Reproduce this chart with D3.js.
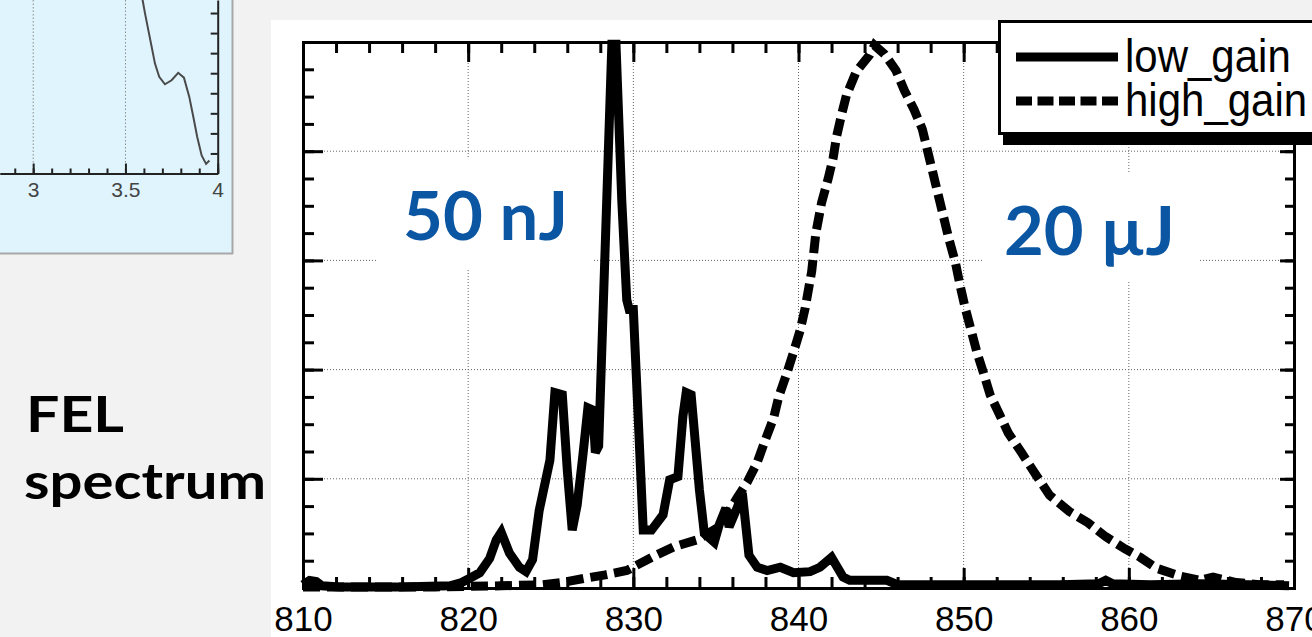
<!DOCTYPE html>
<html>
<head>
<meta charset="utf-8">
<script src="https://cdn.jsdelivr.net/npm/d3@7"></script>
<style>
  html, body { margin: 0; padding: 0; background: #f2f2f2; overflow: hidden; }
  svg { display: block; }
</style>
</head>
<body>
<svg id="chart" width="1312" height="637"></svg>
<script>
// wavelength (nm) / signal pairs
const lowGain = [
  [810.0, 0.03], [810.4, 0.07], [810.8, 0.06], [811.15, 0.02], [812.2, 0.01], [815.9, 0.01],
  [818.9, 0.02], [819.6, 0.05], [820.1, 0.09], [820.7, 0.14], [821.3, 0.27], [821.7, 0.44],
  [822.0, 0.51], [822.5, 0.32], [823.1, 0.19], [823.5, 0.15], [823.9, 0.26], [824.3, 0.71],
  [824.95, 1.17], [825.25, 1.79], [825.7, 1.77], [826.0, 1.08], [826.3, 0.53], [826.6, 0.76],
  [826.95, 1.22], [827.25, 1.65], [827.55, 1.63], [827.7, 1.24], [827.9, 1.30], [828.7, 4.98],
  [828.95, 4.98], [829.3, 3.55], [829.6, 2.64], [829.75, 2.55], [830.0, 2.55], [830.6, 0.53],
  [831.1, 0.53], [831.8, 0.67], [832.2, 0.99], [832.7, 1.02], [833.0, 1.57], [833.2, 1.79],
  [833.5, 1.77], [834.0, 0.90], [834.3, 0.50], [834.9, 0.42], [835.2, 0.58], [835.6, 0.73],
  [835.8, 0.56], [836.3, 0.74], [836.6, 0.87], [837.0, 0.30], [837.5, 0.19], [838.1, 0.16],
  [838.9, 0.19], [839.7, 0.14], [840.7, 0.15], [841.3, 0.19], [842.0, 0.28], [842.7, 0.10],
  [843.1, 0.07], [845.35, 0.07], [846.0, 0.03], [848.6, 0.03], [852.2, 0.03], [855.8, 0.03],
  [858.2, 0.04], [858.6, 0.07], [859.0, 0.04], [861.3, 0.03], [864.3, 0.04], [867.3, 0.03],
  [869.7, 0.02]
];

const highGain = [
  [810.0, 0.01], [818.0, 0.01], [822.0, 0.02], [824.5, 0.03], [825.7, 0.05], [827.1, 0.09],
  [828.3, 0.12], [829.6, 0.16], [831.1, 0.28], [832.5, 0.38], [833.85, 0.44], [835.2, 0.56],
  [836.3, 0.83], [836.9, 0.97], [837.5, 1.15], [838.0, 1.36], [838.5, 1.56], [838.8, 1.75],
  [839.3, 1.97], [839.7, 2.16], [840.1, 2.36], [840.4, 2.56], [840.8, 2.90], [841.05, 3.25],
  [841.4, 3.53], [841.8, 3.75], [842.1, 3.94], [842.3, 4.13], [842.6, 4.33], [842.9, 4.51],
  [843.5, 4.73], [844.3, 4.88], [844.6, 4.97], [845.2, 4.89], [845.9, 4.74], [846.4, 4.56],
  [847.0, 4.38], [847.5, 4.20], [847.9, 3.95], [848.3, 3.70], [848.7, 3.45], [849.1, 3.20],
  [849.5, 2.98], [849.8, 2.76], [850.1, 2.56], [850.45, 2.36], [850.8, 2.16], [851.2, 1.97],
  [851.6, 1.77], [852.2, 1.58], [852.7, 1.42], [853.5, 1.24], [854.4, 1.03], [855.2, 0.85],
  [856.4, 0.70], [857.5, 0.60], [858.6, 0.47], [859.75, 0.36], [860.7, 0.28], [861.7, 0.18],
  [863.1, 0.11], [864.3, 0.07], [865.1, 0.10], [866.5, 0.05], [867.9, 0.03], [869.4, 0.03]
];

const xMajorTicks = [810, 820, 830, 840, 850, 860, 870];
const xGridTicks = [820, 830, 840, 850, 860];
const yMajorTicks = [0, 1, 2, 3, 4, 5];
const yGridTicks = [1, 2, 3, 4];
const legendLabels = ["low_gain", "high_gain"];
const energyLabels = ["50 nJ", "20 µJ"];
const sideTitle = ["FEL", "spectrum"];

// small cropped plot in the top-left corner
const insetCurve = [
  [3.58, 9.3], [3.593, 8.65], [3.606, 7.98], [3.624, 7.15], [3.642, 6.32], [3.66, 5.48],
  [3.683, 4.82], [3.714, 4.45], [3.75, 4.65], [3.786, 5.02], [3.817, 4.78], [3.846, 3.82],
  [3.868, 2.82], [3.889, 1.82], [3.913, 0.9], [3.937, 0.48], [3.955, 0.65]
];
const insetMajorTicks = [3, 3.5, 4];
const insetGridTicks = [3, 3.5];

const svg = d3.select("#chart");

// ---------- inset ----------
const inset = svg.append("g");
inset.append("rect").attr("width", 232).attr("height", 253).attr("fill", "#dff4fd");
inset.append("path").attr("d", "M232.5,0V254M0,253.5H233")
  .attr("stroke", "#a8a8a8").attr("stroke-width", 2).attr("fill", "none");

const ix = d3.scaleLinear().domain([2.82, 4]).range([0, 217.7]);
const iy = d3.scaleLinear().domain([0, 8.65]).range([173.5, 0]);

inset.append("clipPath").attr("id", "insetClip")
  .append("rect").attr("width", 217.7).attr("height", 173.5);

inset.selectAll(".igrid").data(insetGridTicks).join("line")
  .attr("x1", d => ix(d)).attr("x2", d => ix(d))
  .attr("y1", 0).attr("y2", 173.5)
  .attr("stroke", "#8c8c8c").attr("stroke-width", 1).attr("stroke-dasharray", "1.5,2");

inset.append("path").datum(insetCurve)
  .attr("clip-path", "url(#insetClip)")
  .attr("fill", "none").attr("stroke", "#4a4a4a").attr("stroke-width", 2)
  .attr("d", d3.line().x(d => ix(d[0])).y(d => iy(d[1])));

const insetMinor = d3.range(2.9, 4.001, 0.1).map(v => +v.toFixed(1));
const ib1 = inset.append("g").attr("transform", "translate(0,173.5)")
  .call(d3.axisBottom(ix).tickValues(insetMinor).tickSize(-5).tickSizeOuter(0).tickFormat(""));
const ib2 = inset.append("g").attr("transform", "translate(0,173.5)")
  .call(d3.axisBottom(ix).tickValues(insetMajorTicks).tickSize(-10).tickSizeOuter(0)
    .tickPadding(9).tickFormat(d3.format("~g")));
const ir = inset.append("g").attr("transform", "translate(217.7,0)")
  .call(d3.axisRight(iy).tickValues(d3.range(0, 9)).tickSize(-7).tickSizeOuter(0).tickFormat(""));
[ib1, ib2, ir].forEach(g => {
  g.selectAll("path, line").attr("stroke", "#222").attr("stroke-width", 2);
});
ib2.selectAll("text").attr("fill", "#444").attr("font-size", 21)
  .attr("font-family", "'Liberation Sans', Arial, sans-serif");

// ---------- side title ----------
svg.append("text").text(sideTitle[0])
  .attr("x", 26).attr("y", 432)
  .attr("font-family", "Lato, sans-serif").attr("font-weight", 700).attr("font-size", 50)
  .attr("textLength", 98).attr("lengthAdjust", "spacingAndGlyphs").attr("fill", "#000");
svg.append("text").text(sideTitle[1])
  .attr("x", 24).attr("y", 499)
  .attr("font-family", "Lato, sans-serif").attr("font-weight", 700).attr("font-size", 50)
  .attr("textLength", 242).attr("lengthAdjust", "spacingAndGlyphs").attr("fill", "#000");

// ---------- main plot ----------
svg.append("rect").attr("x", 271).attr("y", 20).attr("width", 1041).attr("height", 617)
  .attr("fill", "#fff");

const x = d3.scaleLinear().domain([810, 870]).range([303, 1294]);
const y = d3.scaleLinear().domain([0, 5]).range([588, 42]);

const grid = svg.append("g")
  .attr("stroke", "#666").attr("stroke-width", 1).attr("stroke-dasharray", "1,2");
grid.selectAll(".vg").data(xGridTicks).join("line")
  .attr("x1", d => x(d)).attr("x2", d => x(d)).attr("y1", y(5)).attr("y2", y(0));
grid.selectAll(".hg").data(yGridTicks).join("line")
  .attr("x1", x(810)).attr("x2", x(870)).attr("y1", d => y(d)).attr("y2", d => y(d));

// white patches under the energy labels (they break the grid in the scan)
svg.append("rect").attr("x", 378).attr("y", 158).attr("width", 214).attr("height", 112).attr("fill", "#fff");
svg.append("rect").attr("x", 984).attr("y", 173).attr("width", 216).attr("height", 109).attr("fill", "#fff");

const xMinor = d3.range(810, 870.1, 2);
const yMinor = d3.range(0, 5.01, 0.25);
const axes = [];
axes.push(svg.append("g").attr("transform", "translate(0,588)")
  .call(d3.axisBottom(x).tickValues(xMinor).tickSize(-11).tickSizeOuter(0).tickFormat("")));
axes.push(svg.append("g").attr("class", "xlab").attr("transform", "translate(0,588)")
  .call(d3.axisBottom(x).tickValues(xMajorTicks).tickSize(-20).tickSizeOuter(0)
    .tickPadding(18).tickFormat(d3.format("d"))));
axes.push(svg.append("g").attr("transform", "translate(0,42)")
  .call(d3.axisTop(x).tickValues(xMinor).tickSize(-11).tickSizeOuter(0).tickFormat("")));
axes.push(svg.append("g").attr("transform", "translate(0,42)")
  .call(d3.axisTop(x).tickValues(xMajorTicks).tickSize(-20).tickSizeOuter(0).tickFormat("")));
axes.push(svg.append("g").attr("transform", "translate(303,0)")
  .call(d3.axisLeft(y).tickValues(yMinor).tickSize(-11).tickSizeOuter(0).tickFormat("")));
axes.push(svg.append("g").attr("transform", "translate(303,0)")
  .call(d3.axisLeft(y).tickValues(yMajorTicks).tickSize(-20).tickSizeOuter(0).tickFormat("")));
axes.push(svg.append("g").attr("transform", "translate(1294,0)")
  .call(d3.axisRight(y).tickValues(yMinor).tickSize(-9).tickSizeOuter(0).tickFormat("")));
axes.push(svg.append("g").attr("transform", "translate(1294,0)")
  .call(d3.axisRight(y).tickValues(yMajorTicks).tickSize(-14).tickSizeOuter(0).tickFormat("")));
axes.forEach(g => {
  g.selectAll("path").attr("stroke", "#000").attr("stroke-width", 3).attr("stroke-linecap", "square");
  g.selectAll("line").attr("stroke", "#000").attr("stroke-width", 3);
});
svg.selectAll(".xlab text")
  .attr("font-family", "'Liberation Sans', Arial, sans-serif")
  .attr("font-size", 35).attr("fill", "#000");

const line = d3.line().x(d => x(d[0])).y(d => y(d[1]));

svg.append("path").datum(highGain)
  .attr("fill", "none").attr("stroke", "#000").attr("stroke-width", 9)
  .attr("stroke-dasharray", "17,7").attr("d", line);

svg.append("path").datum(lowGain)
  .attr("fill", "none").attr("stroke", "#000").attr("stroke-width", 9)
  .attr("stroke-linejoin", "miter").attr("stroke-miterlimit", 3).attr("d", line);

// energy labels
const energyPos = [[403, 240, 165], [1004, 255, 171]];
svg.selectAll(".elab").data(energyLabels).join("text")
  .text(d => d)
  .attr("x", (d, i) => energyPos[i][0]).attr("y", (d, i) => energyPos[i][1])
  .attr("textLength", (d, i) => energyPos[i][2]).attr("lengthAdjust", "spacingAndGlyphs")
  .attr("font-family", "Lato, sans-serif").attr("font-weight", 700).attr("font-size", 67)
  .attr("fill", "#0b56a2");

// ---------- legend ----------
const legend = svg.append("g");
legend.append("rect").attr("x", 1003).attr("y", 31).attr("width", 320).attr("height", 114).attr("fill", "#000");
legend.append("rect").attr("x", 999.5).attr("y", 21.5).attr("width", 320).attr("height", 112)
  .attr("fill", "#fff").attr("stroke", "#000").attr("stroke-width", 3);
const legendRows = legendLabels.map((label, i) => ({ label, y: [57, 101][i], dash: i === 0 ? null : "16,5.5" }));
legend.selectAll(".lline").data(legendRows).join("line")
  .attr("x1", 1016).attr("x2", 1118).attr("y1", d => d.y).attr("y2", d => d.y)
  .attr("stroke", "#000").attr("stroke-width", 9)
  .attr("stroke-dasharray", d => d.dash);
legend.selectAll(".ltext").data(legendRows).join("text")
  .text(d => d.label)
  .attr("transform", d => `translate(1125,${d.y + 15}) scale(1,1.12)`)
  .attr("font-family", "'Liberation Sans', Arial, sans-serif").attr("font-size", 42).attr("fill", "#000");
</script>
</body>
</html>
